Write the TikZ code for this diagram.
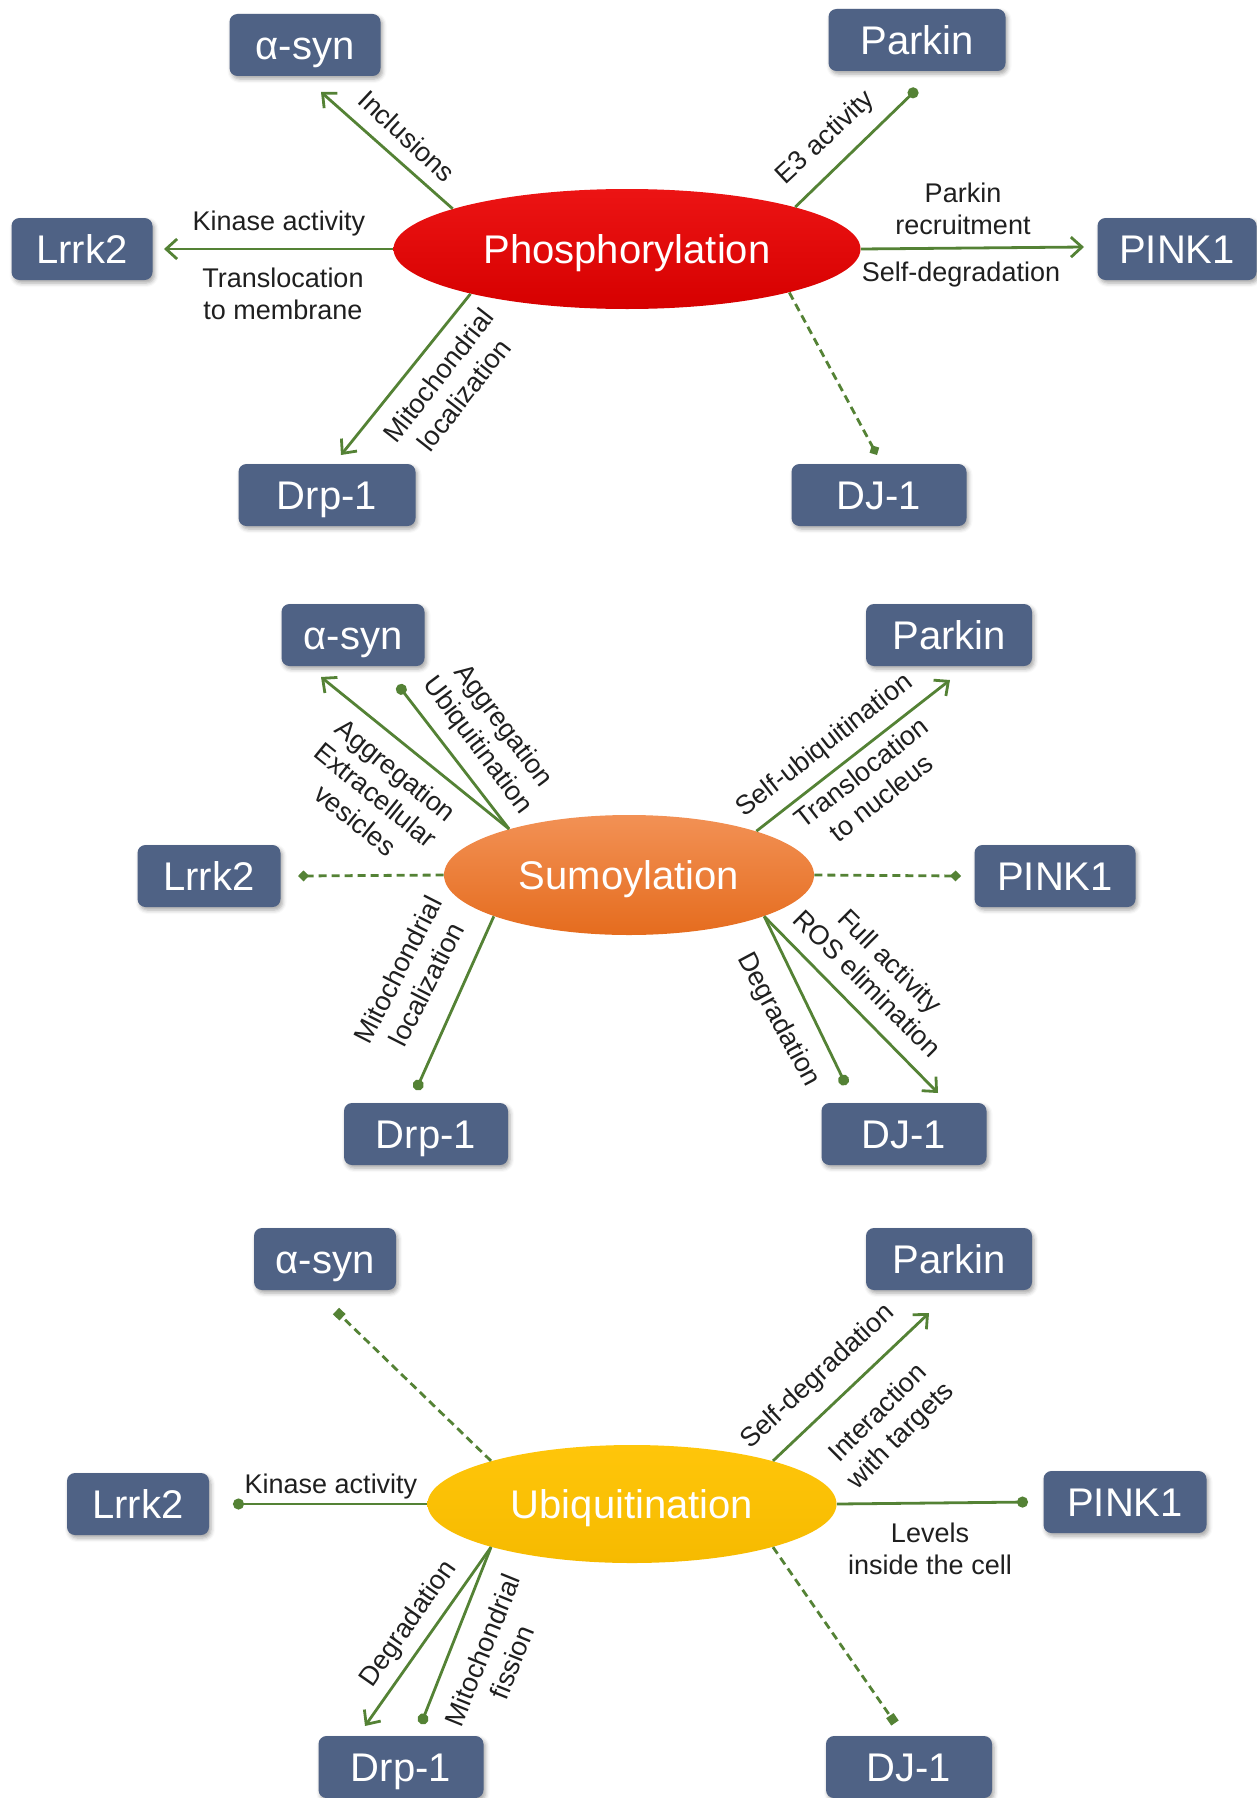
\documentclass[tikz,border=0pt]{standalone}
\usepackage{fontspec}
\setmainfont{Liberation Sans}
\usetikzlibrary{arrows.meta,shapes.geometric,shadows.blur,calc}

\definecolor{genebox}{RGB}{79,98,133}
\definecolor{linkgreen}{RGB}{84,130,53}
\definecolor{phostop}{RGB}{236,20,20}
\definecolor{phosbot}{RGB}{214,0,0}
\definecolor{sumotop}{RGB}{242,145,85}
\definecolor{sumobot}{RGB}{229,108,30}
\definecolor{ubitop}{RGB}{255,198,10}
\definecolor{ubibot}{RGB}{246,186,0}

\tikzset{
    gene/.style={rectangle,rounded corners=4pt,fill=genebox,text=white,inner sep=0pt,minimum height=31pt,
        text height=14.5pt,text depth=0pt,font=\fontsize{20}{24}\selectfont,
        blur shadow={shadow xshift=1pt,shadow yshift=-1.5pt,shadow blur radius=2pt,shadow opacity=35}},
    ptm/.style={ellipse,inner sep=0pt,minimum height=60pt,text=white,text height=14.5pt,text depth=0pt,
        font=\fontsize{20}{24}\selectfont},
    lbl/.style={font=\fontsize{13.5}{16}\selectfont,align=center,text=black!88},
    link/.style={draw=linkgreen,line width=1.4pt},
    act/.style={link,-{Straight Barb[length=5.5pt,width=10pt]}},
    bind/.style={link,-{Circle[length=5.5pt]}},
    weak/.style={link,dash pattern=on 4pt off 2.5pt,-{Diamond[length=5.5pt,width=5.5pt]}},
    weaksq/.style={link,dash pattern=on 4pt off 2.5pt,-{Square[length=4.5pt,width=4.5pt]}},
}

\begin{document}
\begin{tikzpicture}[x=0.5pt,y=-0.5pt]
        \useasboundingbox (0,0) rectangle (1257,1798);

        \begin{scope}
            % Phosphorylation
            \node[ptm,minimum width=233.5pt,top color=phostop,bottom color=phosbot] (phos) at (627,249) {Phosphorylation};

            \node[gene,minimum width=75.5pt] (p-asyn) at (305,45) {α-syn};
            \node[gene,minimum width=88.5pt] (p-parkin) at (917,40) {Parkin};
            \node[gene,minimum width=70.5pt] (p-lrrk) at (82,249) {Lrrk2};
            \node[gene,minimum width=79.5pt] (p-pink) at (1177,249) {PINK1};
            \node[gene,minimum width=88.5pt] (p-drp) at (327,495) {Drp-1};
            \node[gene,minimum width=87.5pt] (p-dj) at (879,495) {DJ-1};

            \draw[act] (phos.167) -- ($(p-asyn)+(16,47)$);
            \draw[act] (phos.west) -- ($(p-lrrk)+(82,0)$);
            \draw[act] (phos.196) -- ($(p-drp)+(14,-40)$);
            \draw[bind] (phos.14) -- ($(p-parkin)+(0,49)$);
            \draw[act] (phos.east) -- ($(p-pink)+(-93,-2)$);
            \draw[weak] (phos.345) -- ($(p-dj)+(-2,-40)$);

            \node[lbl,rotate=-43] (p-incl) at (407,136) {Inclusions};
            \node[lbl] (p-kin) at (279,224) {Kinase activity};
            \node[lbl] (p-memb) at (283,294) {Translocation\\to membrane};
            \node[lbl,rotate=52] (p-mito) at (451,385) {Mitochondrial\\localization};
            \node[lbl,rotate=43] (p-e3) at (826,138) {E3 activity};
            \node[lbl] (p-recr) at (963,209) {Parkin\\recruitment};
            \node[lbl] (p-self) at (961,275) {Self-degradation};
        \end{scope}

        \begin{scope}
            % Sumoylation
            \node[ptm,minimum width=185pt,top color=sumotop,bottom color=sumobot] (sumo) at (629,875) {Sumoylation};

            \node[gene,minimum width=71.5pt] (s-asyn) at (353,635) {α-syn};
            \node[gene,minimum width=83pt] (s-parkin) at (949,635) {Parkin};
            \node[gene,minimum width=71.5pt] (s-lrrk) at (209,876) {Lrrk2};
            \node[gene,minimum width=80.5pt] (s-pink) at (1055,876) {PINK1};
            \node[gene,minimum width=82pt] (s-drp) at (426,1134) {Drp-1};
            \node[gene,minimum width=82.5pt] (s-dj) at (904,1134) {DJ-1};

            \draw[act] (sumo.159) -- ($(s-asyn)+(-32,42)$);
            \draw[bind] (sumo.159) -- ($(s-asyn)+(45,50)$);
            \draw[weak] (sumo.west) -- ($(s-lrrk)+(89,0)$);
            \draw[bind] (sumo.197) -- ($(s-drp)+(-10,-44)$);
            \draw[act] (sumo.19) -- ($(s-parkin)+(1,45)$);
            \draw[weak] (sumo.east) -- ($(s-pink)+(-94,0)$);
            \draw[bind] (sumo.343) -- ($(s-dj)+(-58,-49)$);
            \draw[act] (sumo.343) -- ($(s-dj)+(34,-41)$);

            \node[lbl,rotate=-39] (s-vesi) at (376,795) {Aggregation\\Extracellular\\vesicles};
            \node[lbl,rotate=-53] (s-ubiq) at (490,736) {Aggregation\\Ubiquitination};
            \node[lbl,rotate=63] (s-mito) at (412,977) {Mitochondrial\\localization};
            \node[lbl,rotate=38] (s-self) at (825,746) {Self-ubiquitination};
            \node[lbl,rotate=38] (s-nucl) at (871,785) {Translocation\\to nucleus};
            \node[lbl,rotate=-62] (s-degr) at (778,1020) {Degradation};
            \node[lbl,rotate=-45] (s-ros) at (879,972) {Full activity\\ROS elimination};
        \end{scope}

        \begin{scope}
            % Ubiquitination
            \node[ptm,minimum width=204.5pt,minimum height=59pt,top color=ubitop,bottom color=ubibot] (ubi) at (632,1504) {Ubiquitination};

            \node[gene,minimum width=71pt] (u-asyn) at (325,1259) {α-syn};
            \node[gene,minimum width=83pt] (u-parkin) at (949,1259) {Parkin};
            \node[gene,minimum width=71pt] (u-lrrk) at (138,1504) {Lrrk2};
            \node[gene,minimum width=81.5pt] (u-pink) at (1125,1502) {PINK1};
            \node[gene,minimum width=82.5pt] (u-drp) at (401,1767) {Drp-1};
            \node[gene,minimum width=83pt] (u-dj) at (909,1767) {DJ-1};

            \draw[weaksq] (ubi.163) -- ($(u-asyn)+(11,52)$);
            \draw[bind] (ubi.west) -- ($(u-lrrk)+(95,0)$);
            \draw[act] (ubi.197) -- ($(u-drp)+(-36,-41)$);
            \draw[bind] (ubi.197) -- ($(u-drp)+(20,-43)$);
            \draw[act] (ubi.17) -- ($(u-parkin)+(-20,54)$);
            \draw[bind] (ubi.east) -- ($(u-pink)+(-97,0)$);
            \draw[weaksq] (ubi.343) -- ($(u-dj)+(-14,-44)$);

            \node[lbl] (u-kin) at (331,1486) {Kinase activity};
            \node[lbl,rotate=55] (u-degr) at (409,1624) {Degradation};
            \node[lbl,rotate=68] (u-mito) at (497,1656) {Mitochondrial\\fission};
            \node[lbl,rotate=43] (u-self) at (818,1377) {Self-degradation};
            \node[lbl,rotate=45] (u-targ) at (890,1425) {Interaction\\with targets};
            \node[lbl] (u-lev) at (930,1549) {Levels\\inside the cell};
        \end{scope}
    \end{tikzpicture}
\end{document}
